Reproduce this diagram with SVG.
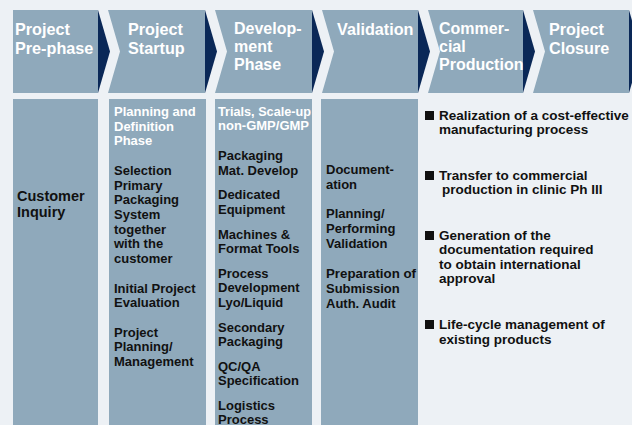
<svg xmlns="http://www.w3.org/2000/svg" width="632" height="425" viewBox="0 0 632 425">
  <defs>
    <style>
      .bg { fill: #edf1f5; }
      .body { fill: #8fa9bb; }
      .tip { fill: #0a2857; }
      .head { font-family: "Liberation Sans", Arial, sans-serif; font-weight: bold; font-size: 16.2px; fill: #ffffff; }
      .head3 { font-family: "Liberation Sans", Arial, sans-serif; font-weight: bold; font-size: 16px; fill: #ffffff; }
      .sub { font-family: "Liberation Sans", Arial, sans-serif; font-weight: bold; font-size: 13px; fill: #ffffff; }
      .txt { font-family: "Liberation Sans", Arial, sans-serif; font-weight: bold; font-size: 13px; fill: #111111; }
      .big { font-family: "Liberation Sans", Arial, sans-serif; font-weight: bold; font-size: 14.5px; fill: #111111; }
      .bul { font-family: "Liberation Sans", Arial, sans-serif; font-weight: bold; font-size: 13.5px; fill: #111111; }
      .sq { fill: #111111; }
    </style>
  </defs>

  <rect class="bg" x="0" y="0" width="632" height="425"/>

  <!-- phase chevrons -->
  <g id="phase-prephase">
    <polygon class="body" points="13,10 98,10 98,93 13,93"/>
    <polygon class="tip" points="98,10 110,51.5 98,93"/>
    <text class="head" x="15" y="35">Project</text>
    <text class="head" x="15" y="54">Pre-phase</text>
  </g>
  <g id="phase-startup">
    <polygon class="body" points="108,10 205,10 205,93 108,93 120,51.5"/>
    <polygon class="tip" points="205,10 217,51.5 205,93"/>
    <text class="head" x="128" y="35">Project</text>
    <text class="head" x="128" y="54">Startup</text>
  </g>
  <g id="phase-development">
    <polygon class="body" points="215,10 312,10 312,93 215,93 227,51.5"/>
    <polygon class="tip" points="312,10 324,51.5 312,93"/>
    <text class="head3" x="234" y="34">Develop-</text>
    <text class="head3" x="234" y="52">ment</text>
    <text class="head3" x="234" y="70">Phase</text>
  </g>
  <g id="phase-validation">
    <polygon class="body" points="322,10 418,10 418,93 322,93 334,51.5"/>
    <polygon class="tip" points="418,10 430,51.5 418,93"/>
    <text class="head" x="337" y="35">Validation</text>
  </g>
  <g id="phase-production">
    <polygon class="body" points="428,10 523,10 523,93 428,93 440,51.5"/>
    <polygon class="tip" points="523,10 535,51.5 523,93"/>
    <text class="head3" x="439" y="34">Commer-</text>
    <text class="head3" x="439" y="52">cial</text>
    <text class="head3" x="439" y="70">Production</text>
  </g>
  <g id="phase-closure">
    <polygon class="body" points="533,10 629,10 629,93 533,93 545,51.5"/>
    <polygon class="tip" points="629,10 641,51.5 629,93"/>
    <text class="head" x="549" y="35">Project</text>
    <text class="head" x="549" y="54">Closure</text>
  </g>

  <!-- activity columns -->
  <g id="col-prephase">
    <rect class="body" x="13" y="99" width="85" height="330"/>
    <text class="big" x="17" y="201">Customer</text>
    <text class="big" x="17" y="217">Inquiry</text>
  </g>
  <g id="col-startup">
    <rect class="body" x="109" y="99" width="97" height="330"/>
    <text class="sub" x="114" y="116">Planning and</text>
    <text class="sub" x="114" y="131">Definition</text>
    <text class="sub" x="114" y="145">Phase</text>
    <text class="txt" x="114" y="175">Selection</text>
    <text class="txt" x="114" y="190">Primary</text>
    <text class="txt" x="114" y="204">Packaging</text>
    <text class="txt" x="114" y="219">System</text>
    <text class="txt" x="114" y="234">together</text>
    <text class="txt" x="114" y="248">with the</text>
    <text class="txt" x="114" y="263">customer</text>
    <text class="txt" x="114" y="293">Initial Project</text>
    <text class="txt" x="114" y="307">Evaluation</text>
    <text class="txt" x="114" y="337">Project</text>
    <text class="txt" x="114" y="351">Planning/</text>
    <text class="txt" x="114" y="366">Management</text>
  </g>
  <g id="col-development">
    <rect class="body" x="215" y="99" width="97" height="330"/>
    <text class="sub" x="218" y="116" textLength="93" lengthAdjust="spacingAndGlyphs">Trials, Scale-up</text>
    <text class="sub" x="218" y="130">non-GMP/GMP</text>
    <text class="txt" x="218" y="160">Packaging</text>
    <text class="txt" x="218" y="175">Mat. Develop</text>
    <text class="txt" x="218" y="199">Dedicated</text>
    <text class="txt" x="218" y="214">Equipment</text>
    <text class="txt" x="218" y="239">Machines &amp;</text>
    <text class="txt" x="218" y="253">Format Tools</text>
    <text class="txt" x="218" y="278">Process</text>
    <text class="txt" x="218" y="292">Development</text>
    <text class="txt" x="218" y="307">Lyo/Liquid</text>
    <text class="txt" x="218" y="332">Secondary</text>
    <text class="txt" x="218" y="346">Packaging</text>
    <text class="txt" x="218" y="371">QC/QA</text>
    <text class="txt" x="218" y="385">Specification</text>
    <text class="txt" x="218" y="410">Logistics</text>
    <text class="txt" x="218" y="424">Process</text>
  </g>
  <g id="col-validation">
    <rect class="body" x="321" y="99" width="97" height="330"/>
    <text class="txt" x="326" y="174">Document-</text>
    <text class="txt" x="326" y="189">ation</text>
    <text class="txt" x="326" y="218">Planning/</text>
    <text class="txt" x="326" y="233">Performing</text>
    <text class="txt" x="326" y="248">Validation</text>
    <text class="txt" x="326" y="278" textLength="90" lengthAdjust="spacingAndGlyphs">Preparation of</text>
    <text class="txt" x="326" y="293">Submission</text>
    <text class="txt" x="326" y="308">Auth. Audit</text>
  </g>

  <!-- goals list -->
  <g id="goals">
    <rect class="sq" x="425" y="111" width="9" height="9"/>
    <text class="bul" x="439" y="120">Realization of a cost-effective</text>
    <text class="bul" x="439" y="134">manufacturing process</text>
    <rect class="sq" x="425" y="171" width="9" height="9"/>
    <text class="bul" x="439" y="180">Transfer to commercial</text>
    <text class="bul" x="442" y="194">production in clinic Ph III</text>
    <rect class="sq" x="425" y="231" width="9" height="9"/>
    <text class="bul" x="439" y="240">Generation of the</text>
    <text class="bul" x="439" y="254">documentation required</text>
    <text class="bul" x="439" y="269">to obtain international</text>
    <text class="bul" x="439" y="283">approval</text>
    <rect class="sq" x="425" y="320" width="9" height="9"/>
    <text class="bul" x="439" y="329">Life-cycle management of</text>
    <text class="bul" x="439" y="344">existing products</text>
  </g>
</svg>
